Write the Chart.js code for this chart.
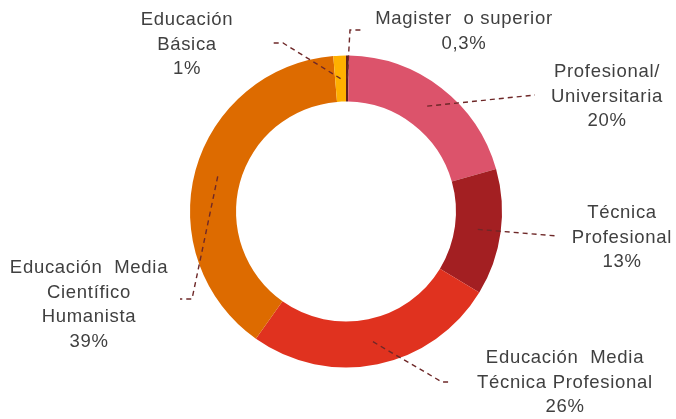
<!DOCTYPE html>
<html>
<head>
<meta charset="utf-8">
<script src="https://cdn.jsdelivr.net/npm/chart.js@4.4.1/dist/chart.umd.min.js"></script>
<style>
    body { margin: 0; background: #fff; }
    #wrap { width: 676px; height: 419px; }
</style>
</head>
<body>
<div id="wrap"><canvas id="eduChart" width="676" height="419"></canvas></div>
<script>
// data (percent of total)
const CATEGORIES = [
    'Magister o superior',
    'Profesional/ Universitaria',
    'Técnica Profesional',
    'Educación Media Técnica Profesional',
    'Educación Media Científico Humanista',
    'Educación Básica'
];
const VALUES = [0.3, 20.3, 13.1, 26.1, 38.9, 1.3];
const PCT_LABELS = ['0,3%', '20%', '13%', '26%', '39%', '1%'];
const LABEL_LINES = [
    ['Magister  o superior'],
    ['Profesional/', 'Universitaria'],
    ['Técnica', 'Profesional'],
    ['Educación  Media', 'Técnica Profesional'],
    ['Educación  Media', 'Científico', 'Humanista'],
    ['Educación', 'Básica']
];
const COLORS = ['#5e2020', '#dc536b', '#a31f22', '#e0321f', '#dd6b00', '#ffb000'];

// label placement: text centre of first line, leader elbow and end point
const LAYOUT = [
    { x: 464, y: 19, elbow: [350, 30], end: [362, 30] },
    { x: 607, y: 72, elbow: [535, 95], end: [535, 95] },
    { x: 622, y: 213, elbow: [557, 236], end: [557, 236] },
    { x: 565, y: 358, elbow: [442, 382], end: [450, 382] },
    { x: 89, y: 268, elbow: [192, 299], end: [180, 299] },
    { x: 187, y: 20, elbow: [283, 43], end: [272, 43] }
];

const leaderLabels = {
    id: 'leaderLabels',
    afterDatasetsDraw(chart) {
        const ctx = chart.ctx;
        const arcs = chart.getDatasetMeta(0).data;
        ctx.save();
        arcs.forEach((arc, i) => {
            const p = arc.tooltipPosition();
            const L = LAYOUT[i];
            ctx.beginPath();
            ctx.setLineDash([5, 4]);
            ctx.lineWidth = 1.4;
            ctx.strokeStyle = '#6e2828';
            ctx.moveTo(p.x, p.y);
            ctx.lineTo(L.elbow[0], L.elbow[1]);
            ctx.lineTo(L.end[0], L.end[1]);
            ctx.stroke();
        });
        ctx.setLineDash([]);
        ctx.fillStyle = '#404040';
        ctx.font = '18.5px "Liberation Sans", Arial, sans-serif';
        ctx.letterSpacing = '0.7px';
        ctx.textAlign = 'center';
        ctx.textBaseline = 'middle';
        arcs.forEach((arc, i) => {
            const L = LAYOUT[i];
            const lines = LABEL_LINES[i].concat([PCT_LABELS[i]]);
            lines.forEach((t, k) => ctx.fillText(t, L.x, L.y + k * 24.5));
        });
        ctx.restore();
    }
};

new Chart(document.getElementById('eduChart').getContext('2d'), {
    type: 'doughnut',
    data: {
        labels: CATEGORIES,
        datasets: [{ data: VALUES, backgroundColor: COLORS, borderWidth: 0 }]
    },
    options: {
        responsive: false,
        animation: false,
        cutout: '70.5%',
        layout: { padding: { left: 190, right: 174, top: 55, bottom: 51 } },
        plugins: { legend: { display: false }, tooltip: { enabled: false } }
    },
    plugins: [leaderLabels]
});
</script>
</body>
</html>
